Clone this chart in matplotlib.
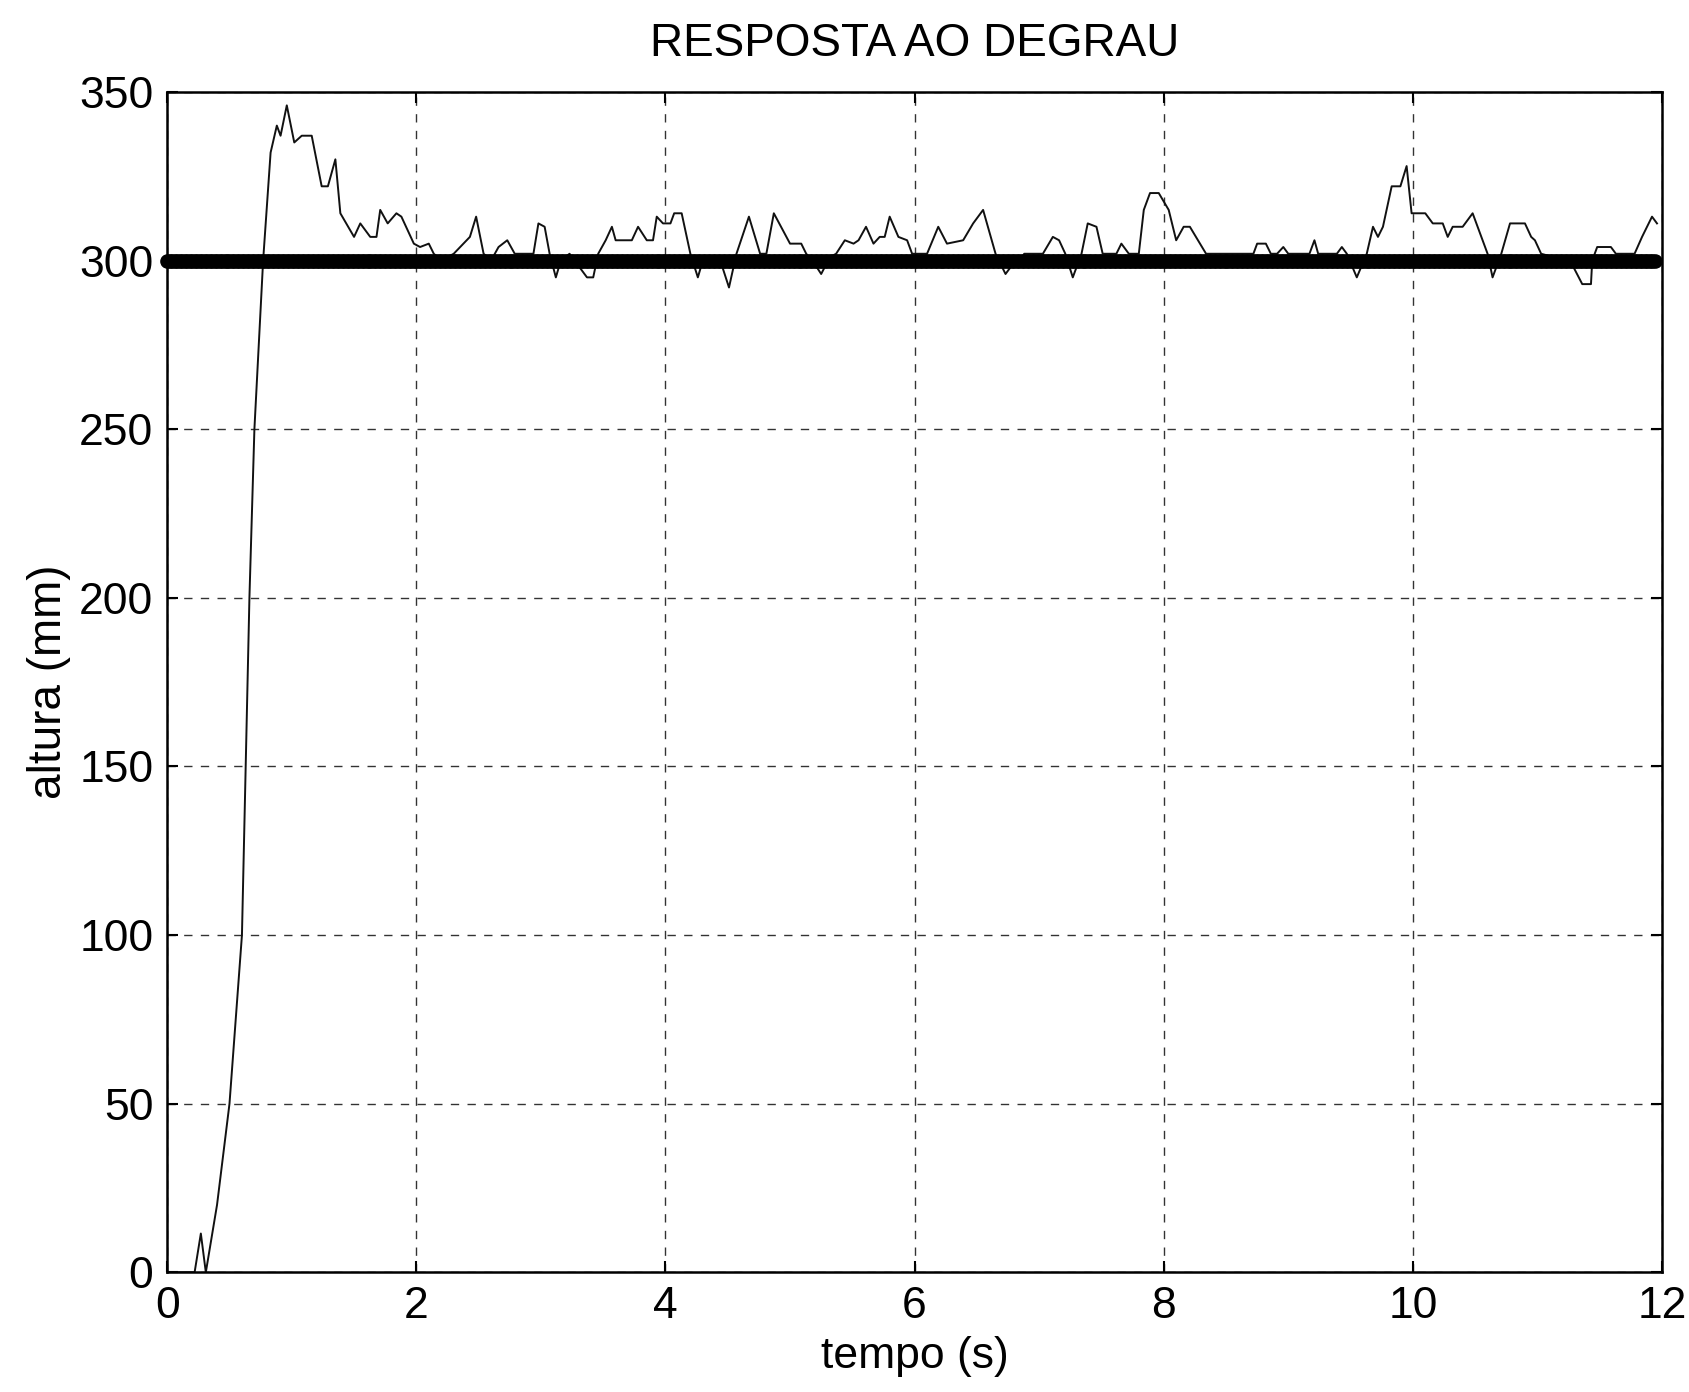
import numpy as np
import matplotlib
matplotlib.use("Agg")
import matplotlib.pyplot as plt

# step response (time in s, height in mm)
tempo = [0.0, 0.22, 0.27, 0.31, 0.40, 0.50, 0.60, 0.63, 0.66, 0.70, 0.77,
         0.83, 0.88, 0.91, 0.96, 1.02, 1.08, 1.16, 1.24, 1.29, 1.35, 1.39,
         1.50, 1.55, 1.63, 1.68, 1.71, 1.77, 1.84, 1.88, 1.98, 2.03, 2.10,
         2.14, 2.20, 2.30, 2.43, 2.48, 2.54, 2.60, 2.66, 2.73, 2.79, 2.94,
         2.98, 3.03, 3.07, 3.12, 3.16, 3.23, 3.31, 3.37, 3.42, 3.46, 3.52,
         3.57, 3.60, 3.73, 3.78, 3.85, 3.90, 3.93, 3.98, 4.04, 4.07, 4.13,
         4.20, 4.26, 4.30, 4.44, 4.51, 4.57, 4.67, 4.76, 4.81, 4.87, 5.00,
         5.09, 5.13, 5.18, 5.25, 5.32, 5.37, 5.44, 5.51, 5.55, 5.61, 5.67,
         5.72, 5.76, 5.80, 5.87, 5.94, 5.98, 6.10, 6.19, 6.26, 6.39, 6.47,
         6.55, 6.65, 6.73, 6.77, 6.85, 6.88, 7.03, 7.11, 7.16, 7.21, 7.27,
         7.34, 7.39, 7.46, 7.51, 7.62, 7.66, 7.72, 7.80, 7.84, 7.89, 7.96,
         8.04, 8.10, 8.16, 8.21, 8.34, 8.72, 8.75, 8.82, 8.86, 8.91, 8.96,
         9.00, 9.17, 9.21, 9.24, 9.39, 9.43, 9.47, 9.55, 9.63, 9.68, 9.72,
         9.76, 9.83, 9.90, 9.95, 9.99, 10.10, 10.16, 10.24, 10.28, 10.32,
         10.40, 10.48, 10.60, 10.64, 10.71, 10.78, 10.90, 10.95, 10.98,
         11.03, 11.23, 11.29, 11.36, 11.43, 11.44, 11.48, 11.59, 11.63,
         11.78, 11.84, 11.92, 11.96]
altura = [0, 0, 11.5, 0, 20, 50, 100, 150, 200, 250, 300,
          332, 340, 337, 346, 335, 337, 337, 322, 322, 330, 314,
          307, 311, 307, 307, 315, 311, 314, 313, 305, 304, 305,
          302, 300, 302, 307, 313, 302, 300, 304, 306, 302, 302,
          311, 310, 302, 295, 300, 302, 298, 295, 295, 302, 306,
          310, 306, 306, 310, 306, 306, 313, 311, 311, 314, 314,
          302, 295, 300, 300, 292, 302, 313, 302, 302, 314, 305,
          305, 302, 300, 296, 301, 302, 306, 305, 306, 310, 305,
          307, 307, 313, 307, 306, 302, 302, 310, 305, 306, 311,
          315, 302, 296, 298, 300, 302, 302, 307, 306, 302, 295,
          302, 311, 310, 302, 302, 305, 302, 302, 315, 320, 320,
          315, 306, 310, 310, 302, 302, 305, 305, 302, 302, 304,
          302, 302, 306, 302, 302, 304, 302, 295, 302, 310, 307,
          310, 322, 322, 328, 314, 314, 311, 311, 307, 310,
          310, 314, 302, 295, 302, 311, 311, 307, 306,
          302, 300, 298, 293, 293, 300, 304, 304, 302,
          302, 307, 313, 311]

# set point (constant 300 mm)
ref_t = np.arange(0, 11.95, 0.02)
ref_h = np.full(len(ref_t), 300.0)

plt.rcParams['font.family'] = ['Liberation Sans', 'DejaVu Sans']

fig = plt.figure(figsize=(16.89, 13.92), dpi=100)
ax = fig.add_axes([0.099, 0.086, 0.885, 0.848])

ax.plot(ref_t, ref_h, color='black', linewidth=7.5, marker='o',
        markersize=9.5, solid_capstyle='round', zorder=3, clip_on=False)
ax.plot(tempo, altura, color='#111111', linewidth=1.4, zorder=2)

ax.set_xlim(0, 12)
ax.set_ylim(0, 350)
ax.set_xticks(range(0, 13, 2))
ax.set_yticks(range(0, 351, 50))
ax.grid(True, color='black', linestyle=(0, (6, 6)), linewidth=1.0, alpha=0.8)
ax.tick_params(direction='in', length=8, width=1.5, labelsize=32,
               top=True, right=True, pad=10)
for s in ax.spines.values():
    s.set_linewidth(1.8)

ax.set_title('RESPOSTA AO DEGRAU', fontsize=33, pad=26)
ax.set_xlabel('tempo (s)', fontsize=32, labelpad=6)
ax.set_ylabel('altura (mm)', fontsize=33, labelpad=6)

fig.savefig('out.png', dpi=100)
